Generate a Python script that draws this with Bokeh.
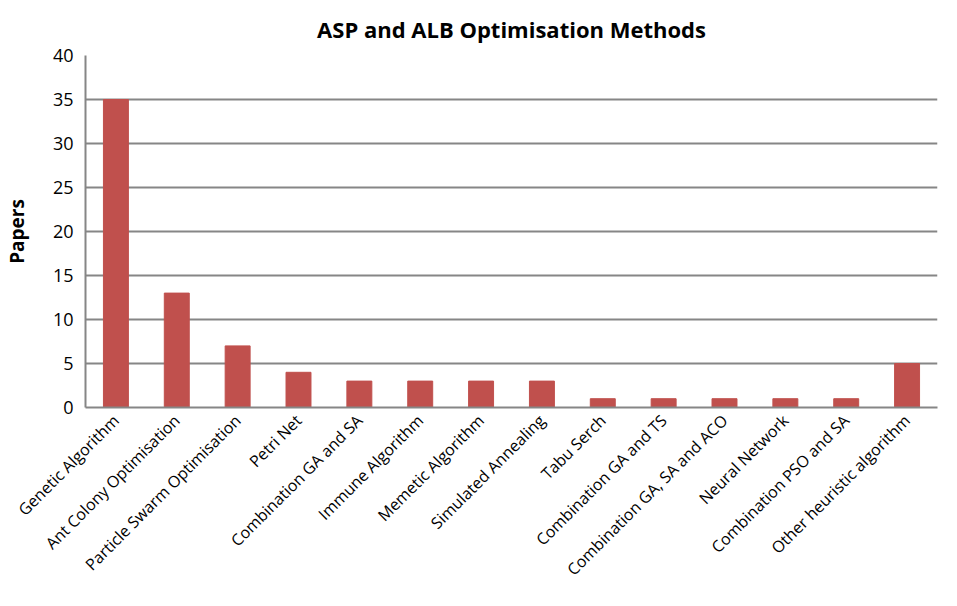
import math
from bokeh.plotting import figure
from bokeh.models import ColumnDataSource, FixedTicker, Range1d
from bokeh.embed import file_html
from bokeh.resources import INLINE

methods = ["Genetic Algorithm", "Ant Colony Optimisation", "Particle Swarm Optimisation",
           "Petri Net", "Combination GA and SA", "Immune Algorithm", "Memetic Algorithm",
           "Simulated Annealing", "Tabu Serch", "Combination GA and TS",
           "Combination GA, SA and ACO", "Neural Network", "Combination PSO and SA",
           "Other heuristic algorithm"]
papers = [35, 13, 7, 4, 3, 3, 3, 3, 1, 1, 1, 1, 1, 5]
y_ticks = [0, 5, 10, 15, 20, 25, 30, 35, 40]

src = ColumnDataSource(dict(m=methods, v=papers))

p = figure(x_range=methods, y_range=Range1d(0, 40), width=941, height=590,
           output_backend="svg", toolbar_location=None,
           title="ASP and ALB Optimisation Methods")
p.min_border_left = 22
p.min_border_right = 4
p.min_border_top = 0
p.min_border_bottom = 0

p.vbar(x="m", top="v", width=0.41, source=src, fill_color="#C0504D", line_color="#C0504D")

font = "Open Sans"
p.title.align = "center"
p.title.text_font = font
p.title.text_font_size = "22px"
p.title.text_font_style = "bold"
p.title.text_color = "#000000"
p.title.standoff = 23

p.outline_line_color = None
p.xgrid.grid_line_color = None
p.ygrid.grid_line_color = "#868686"
p.ygrid.grid_line_width = 2
p.yaxis.ticker = FixedTicker(ticks=y_ticks)
p.yaxis.axis_label = "Papers"
p.yaxis.axis_label_text_font = font
p.yaxis.axis_label_text_font_style = "bold"
p.yaxis.axis_label_text_font_size = "19px"
p.yaxis.axis_label_text_color = "#000000"
p.yaxis.axis_label_standoff = 20

for ax in (p.xaxis, p.yaxis):
    ax.axis_line_color = "#868686"
    ax.axis_line_width = 2
    ax.major_tick_line_color = None
    ax.minor_tick_line_color = None
    ax.major_label_text_font = font
    ax.major_label_text_color = "#000000"

p.yaxis.major_label_text_font_size = "18px"
p.yaxis.major_label_standoff = 6
p.xaxis.major_label_text_font_size = "16px"
p.xaxis.major_label_orientation = math.pi / 4
p.xaxis.major_label_standoff = 4

open("out.html", "w").write(file_html(p, INLINE))
